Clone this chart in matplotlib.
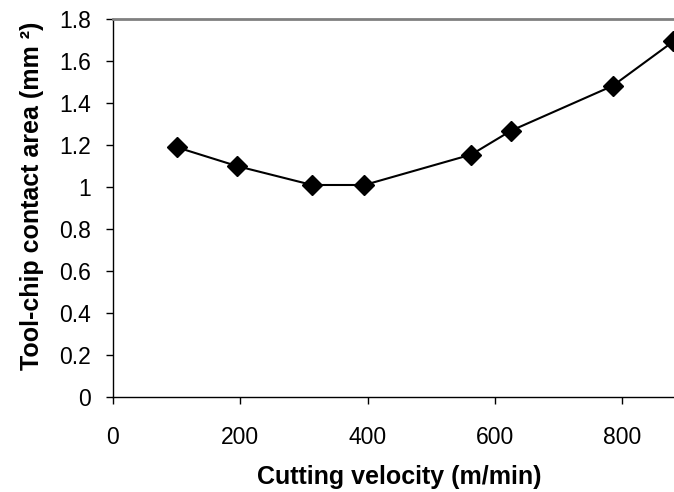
import matplotlib
matplotlib.use('Agg')
import matplotlib.pyplot as plt

velocity = [100, 195, 313, 395, 563, 625, 785, 880]
area = [1.19, 1.10, 1.01, 1.01, 1.155, 1.268, 1.482, 1.693]
xticks = [0, 200, 400, 600, 800]
yticks = [0, 0.2, 0.4, 0.6, 0.8, 1, 1.2, 1.4, 1.6, 1.8]
ytick_labels = ['0', '0.2', '0.4', '0.6', '0.8', '1', '1.2', '1.4', '1.6', '1.8']

plt.rcParams['font.family'] = ['Liberation Sans', 'DejaVu Sans']

fig = plt.figure(figsize=(6.74, 4.92), dpi=100)
# plot area runs past the right edge of the picture, as in the original
ax = fig.add_axes([0.1674, 0.1925, 0.945, 0.769])

ax.plot(velocity, area, color='black', linewidth=1.5, marker='D',
        markersize=10, markerfacecolor='black', markeredgecolor='black',
        clip_on=False, zorder=3)

ax.set_xlim(0, 1000)
ax.set_ylim(0, 1.8)
ax.set_xticks(xticks)
ax.set_yticks(yticks)
ax.set_yticklabels(ytick_labels)
ax.tick_params(direction='out', length=5, width=1, labelsize=16.5)
ax.tick_params(axis='y', pad=10.5)
ax.tick_params(axis='x', pad=16)

ax.spines['top'].set_color('#808080')
ax.spines['top'].set_linewidth(2)
ax.spines['left'].set_linewidth(1)
ax.spines['bottom'].set_linewidth(1)

fig.text(399 / 674, 1 - 477 / 492, 'Cutting velocity (m/min)', fontsize=18,
         fontweight='bold', ha='center', va='center')
fig.text(32 / 674, 1 - 196 / 492, 'Tool-chip contact area (mm \u00b2)', fontsize=18,
         fontweight='bold', ha='center', va='center', rotation=90)

fig.savefig('out.png', dpi=100)
